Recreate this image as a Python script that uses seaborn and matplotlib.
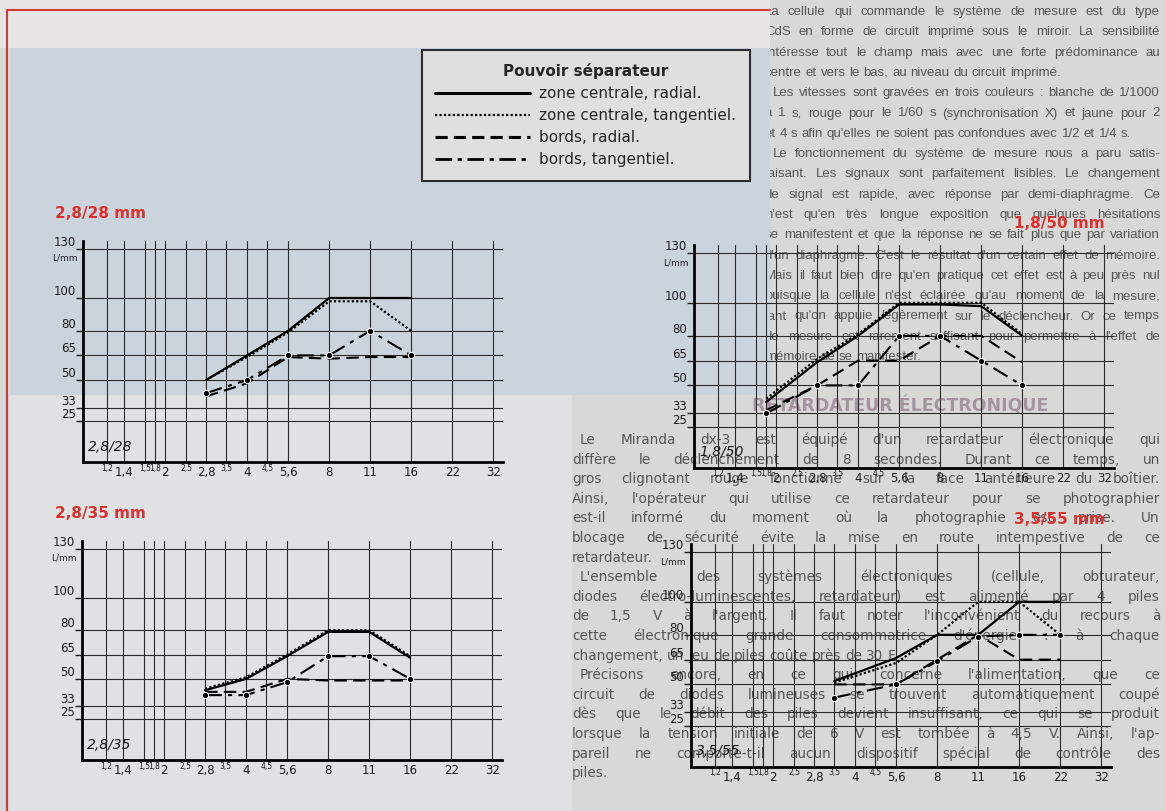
import numpy as np
import pandas as pd
import seaborn as sns
import matplotlib.pyplot as plt
from matplotlib.lines import Line2D
from matplotlib.patches import Rectangle

sns.set_theme(style='white')
plt.rcParams['font.family'] = ['DejaVu Sans']

W, H = 1165, 811

# printed f-stop grid (nominal value -> position in stops)
F_NODES = [1.0, 1.2, 1.4, 1.5, 1.8, 2, 2.5, 2.8, 3.5, 4, 4.5, 5.6, 8, 11, 16, 22, 32, 45]
F_STOPS = [0, 0.59, 1, 1.52, 1.76, 2, 2.52, 3, 3.49, 4, 4.49, 5, 6, 7, 8, 9, 10, 11]
BIG_TICKS = [1.4, 2, 2.8, 4, 5.6, 8, 11, 16, 22, 32]
SMALL_TICKS = [1.2, 1.5, 1.8, 2.5, 3.5, 4.5]
Y_TICKS = [25, 33, 50, 65, 80, 100, 130]

SERIES = ['zone centrale, radial.', 'zone centrale, tangentiel.',
          'bords, radial.', 'bords, tangentiel.']

# 2,8/28 mm
f_28 = [2.8, 4, 5.6, 8, 11, 16]
c_rad_28 = [50, 65, 80, 100, 100, 100]
c_tan_28 = [50, 64, 79, 98, 98, 80]
b_rad_28 = [40, 48, 64, 63, 64, 64]
b_tan_28 = [42, 50, 65, 65, 80, 65]

# 2,8/35 mm
f_35 = [2.8, 4, 5.6, 8, 11, 16]
c_rad_35 = [43, 50, 64, 79, 79, 63]
c_tan_35 = [44, 51, 65, 80, 80, 64]
b_rad_35 = [42, 42, 50, 49, 49, 49]
b_tan_35 = [40, 40, 48, 64, 64, 50]

# 1,8/50 mm
f_50 = [1.8, 2.8, 4, 5.6, 8, 11, 16]
c_rad_50 = [40, 64, 80, 99, 99, 98, 80]
c_tan_50 = [42, 66, 81, 100, 100, 100, 81]
b_rad_50 = [35, 50, 65, 65, 80, 80, 64]
b_tan_50 = [33, 50, 50, 80, 80, 65, 50]

# 3,5/55 mm
f_55 = [3.5, 5.6, 8, 11, 16, 22]
c_rad_55 = [52, 66, 80, 80, 100, 100]
c_tan_55 = [51, 63, 80, 100, 100, 80]
b_rad_55 = [50, 50, 65, 80, 65, 65]
b_tan_55 = [42, 50, 64, 79, 80, 80]

# article text (right column)
TEXT_TOP = [
    'La cellule qui commande le système de mesure est du type',
    'CdS en forme de circuit imprimé sous le miroir. La sensibilité',
    'intéresse tout le champ mais avec une forte prédominance au',
    'centre et vers le bas, au niveau du circuit imprimé.',
    'Les vitesses sont gravées en trois couleurs : blanche de 1/1000',
    'à 1 s, rouge pour le 1/60 s (synchronisation X) et jaune pour 2',
    'et 4 s afin qu\'elles ne soient pas confondues avec 1/2 et 1/4 s.',
    'Le fonctionnement du système de mesure nous a paru satis-',
    'faisant. Les signaux sont parfaitement lisibles. Le changement',
    'de signal est rapide, avec réponse par demi-diaphragme. Ce',
    'n\'est qu\'en très longue exposition que quelques hésitations',
    'se manifestent et que la réponse ne se fait plus que par variation',
    'd\'un diaphragme. C\'est le résultat d\'un certain effet de mémoire.',
    'Mais il faut bien dire qu\'en pratique cet effet est à peu près nul',
    'puisque la cellule n\'est éclairée qu\'au moment de la mesure,',
    'tant qu\'on appuie légèrement sur le déclencheur. Or ce temps',
    'de mesure est rarement suffisant pour permettre à l\'effet de',
    'mémoire de se manifester.',
]
TEXT_BOTTOM = [
    'Le Miranda dx-3 est équipé d\'un retardateur électronique qui',
    'diffère le déclenchement de 8 secondes. Durant ce temps, un',
    'gros clignotant rouge fonctionne sur la face antérieure du boîtier.',
    'Ainsi, l\'opérateur qui utilise ce retardateur pour se photographier',
    'est-il informé du moment où la photographie est prise. Un',
    'blocage de sécurité évite la mise en route intempestive de ce',
    'retardateur.',
    'L\'ensemble des systèmes électroniques (cellule, obturateur,',
    'diodes électro-luminescentes, retardateur) est alimenté par 4 piles',
    'de 1,5 V à l\'argent. Il faut noter l\'inconvénient du recours à',
    'cette électronique grande consommatrice d\'énergie : à chaque',
    'changement, un jeu de piles coûte près de 30 F.',
    'Précisons encore, en ce qui concerne l\'alimentation, que ce',
    'circuit de diodes lumineuses se trouvent automatiquement coupé',
    'dès que le débit des piles devient insuffisant, ce qui se produit',
    'lorsque la tension initiale de 6 V est tombée à 4,5 V. Ainsi, l\'ap-',
    'pareil ne comporte-t-il aucun dispositif spécial de contrôle des',
    'piles.',
]
PARA_STARTS = {'Les vitesses', 'Le fonctionn', 'Le Miranda d', 'L\'ensemble d', 'Précisons en'}
PARA_ENDS = {'centre et vers le bas, au niveau du circuit imprimé.',
             'et 4 s afin qu\'elles ne soient pas confondues avec 1/2 et 1/4 s.',
             'mémoire de se manifester.', 'retardateur.',
             'changement, un jeu de piles coûte près de 30 F.', 'piles.'}
HEADING = 'RETARDATEUR ÉLECTRONIQUE'

STYLES = {
    SERIES[0]: dict(linestyle='-', lw=1.6),
    SERIES[1]: dict(linestyle=(0, (1, 1)), lw=1.6),
    SERIES[2]: dict(linestyle=(0, (6, 3)), lw=1.5),
    SERIES[3]: dict(linestyle=(0, (8, 3, 2, 3)), lw=1.5, marker='o', ms=4.5),
}


def fwd(x):
    return np.interp(np.log(x), np.log(F_NODES), F_STOPS)


def inv(s):
    return np.exp(np.interp(s, F_STOPS, np.log(F_NODES)))


def comma(v):
    return f'{v:g}'.replace('.', ',')


def px_axes(left, right, bottom, top):
    return [left / W, 1 - bottom / H, (right - left) / W, (bottom - top) / H]


def chart(rect, f, rows, tag):
    ax = fig.add_axes(px_axes(*rect), zorder=3)
    ax.set_facecolor('none')
    for name, vals in zip(SERIES, rows):
        sns.lineplot(x=f, y=vals, ax=ax, color='black', **STYLES[name])
    ax.set_xscale('function', functions=(fwd, inv))
    ax.set_xlim(1.0, 34.7)
    ax.set_ylim(0, 135)
    ticks = sorted(BIG_TICKS + SMALL_TICKS)
    ax.set_xticks(ticks)
    ax.set_xticklabels([comma(t) for t in ticks])
    for t, lab in zip(ticks, ax.get_xticklabels()):
        if t in SMALL_TICKS:
            lab.set_fontsize(5.5)
            lab.set_y(0.012)
        else:
            lab.set_fontsize(8.5)
    ax.set_yticks(Y_TICKS)
    ax.set_yticklabels([str(t) for t in Y_TICKS], fontsize=8.5)
    for lab in ax.get_yticklabels():
        lab.set_verticalalignment('bottom')
    ax.tick_params(axis='x', length=0, pad=3, colors='#1a1a1a')
    ax.tick_params(axis='y', length=5, width=1, pad=0, colors='#1a1a1a', left=True)
    ax.grid(True, color='#2a2a2a', lw=0.8)
    for s in ['top', 'right']:
        ax.spines[s].set_visible(False)
    for s in ['left', 'bottom']:
        ax.spines[s].set_color('black')
        ax.spines[s].set_linewidth(2)
    ax.set_xlabel('')
    ax.set_ylabel('')
    ax.text(-0.012, 127, 'L/mm', transform=ax.get_yaxis_transform(),
            ha='right', va='top', fontsize=6.5, color='#1a1a1a')
    ax.text(0.012, 0.07, tag, transform=ax.transAxes, ha='left', va='center',
            fontsize=10, style='italic', color='#1a1a1a')
    return ax


fig = plt.figure(figsize=(W / 100, H / 100), dpi=100)
fig.patch.set_facecolor('#d8d8d6')
renderer = fig.canvas.get_renderer()


def bg(x0, y0, x1, y1, color, z=0.5):
    fig.add_artist(Rectangle((x0 / W, 1 - y1 / H), (x1 - x0) / W, (y1 - y0) / H,
                             transform=fig.transFigure, facecolor=color,
                             edgecolor='none', zorder=z))


def justified(line, y, x0, x1, size, family, last=False):
    if line[:12] in PARA_STARTS:
        x0 += 8
    words = line.split(' ')
    txts = [fig.text(0, 1 - y / H, w, fontsize=size, color='#555555', va='center',
                     family=family, zorder=0.3) for w in words]
    widths = [t.get_window_extent(renderer).width for t in txts]
    if last or len(words) == 1:
        gap = size * 0.4
    else:
        gap = (x1 - x0 - sum(widths)) / (len(words) - 1)
    x = x0
    for t, w in zip(txts, widths):
        t.set_x(x / W)
        x += w + gap


for i, line in enumerate(TEXT_TOP):
    justified(line, 12 + 20.3 * i, 765, 1160, 9.5, ['Liberation Sans', 'DejaVu Sans'],
              last=line in PARA_ENDS)
fig.text(900 / W, 1 - 406 / H, HEADING, fontsize=12.5, fontweight='bold', color='#a5939f',
         ha='center', va='center', zorder=0.3)
for i, line in enumerate(TEXT_BOTTOM):
    justified(line, 440 + 19.6 * i, 572, 1160, 9.8, ['DejaVu Sans'],
              last=line in PARA_ENDS)

bg(0, 0, 770, 48, '#e6e5e2')
bg(10, 48, 770, 395, '#cbd4dd')
bg(10, 395, 572, 811, '#dfe1e3')
fig.add_artist(Line2D([7 / W, 7 / W], [0, 1 - 10 / H], transform=fig.transFigure,
                      color='#d23a3a', lw=1.5, zorder=1))
fig.add_artist(Line2D([7 / W, 770 / W], [1 - 10 / H, 1 - 10 / H], transform=fig.transFigure,
                      color='#d23a3a', lw=1.5, zorder=1))

chart((83, 503, 462, 240.6), f_28, [c_rad_28, c_tan_28, b_rad_28, b_tan_28], '2,8/28')
chart((82, 502, 760, 541), f_35, [c_rad_35, c_tan_35, b_rad_35, b_tan_35], '2,8/35')
chart((694, 1114, 468, 245), f_50, [c_rad_50, c_tan_50, b_rad_50, b_tan_50], '1,8/50')
chart((691, 1111, 767, 544), f_55, [c_rad_55, c_tan_55, b_rad_55, b_tan_55], '3,5/55')

red = '#d8312e'
fig.text(55 / W, 1 - 213 / H, '2,8/28 mm', color=red, fontsize=11, fontweight='bold', va='center')
fig.text(55 / W, 1 - 513 / H, '2,8/35 mm', color=red, fontsize=11, fontweight='bold', va='center')
fig.text(1105 / W, 1 - 223 / H, '1,8/50 mm', color=red, fontsize=11, fontweight='bold',
         va='center', ha='right', zorder=4)
fig.text(1105 / W, 1 - 520 / H, '3,5/55 mm', color=red, fontsize=11, fontweight='bold',
         va='center', ha='right', zorder=4)

handles = [Line2D([], [], color='black', linestyle='-', lw=2.2),
           Line2D([], [], color='black', linestyle=(0, (1, 1)), lw=1.6),
           Line2D([], [], color='black', linestyle=(0, (4, 2)), lw=2.2),
           Line2D([], [], color='black', linestyle=(0, (6, 2, 1.5, 2)), lw=2.0)]
leg = fig.legend(handles, SERIES, loc='upper left', bbox_to_anchor=(414 / W, 1 - 42 / H),
                 title='Pouvoir séparateur', fontsize=11, title_fontsize=11,
                 handlelength=6.2, handletextpad=0.6, labelspacing=0.45,
                 borderpad=0.9, frameon=True, fancybox=False)
leg.get_title().set_fontweight('bold')
leg.get_frame().set_edgecolor('black')
leg.get_frame().set_linewidth(1.5)
leg.get_frame().set_facecolor('#e4e4e1')
leg.set_zorder(4)

fig.savefig('out.png', dpi=100)
